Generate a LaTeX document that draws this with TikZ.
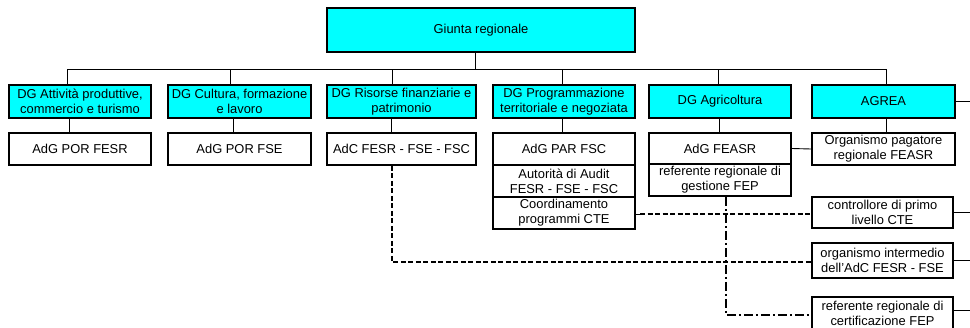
\documentclass[tikz,border=0pt]{standalone}
\usepackage{fontspec}
\setmainfont{Liberation Sans}
\usetikzlibrary{calc}
\definecolor{aqua}{RGB}{0,255,255}
\begin{document}
\begin{tikzpicture}[x=1pt,y=-1pt,
  box/.style={draw,line width=1.8pt,inner sep=0pt,align=center,font=\fontsize{12.9}{15}\selectfont},
  cy/.style={box,fill=aqua},
  wh/.style={box,fill=white},
  conn/.style={line width=0.9pt},
  dsh/.style={line width=1.5pt,dash pattern=on 5pt off 2.5pt},
  dshdot/.style={line width=1.2pt,dash pattern=on 9pt off 3pt on 2pt off 3pt}]
\useasboundingbox (0,0) rectangle (970,327);
\clip (0,0) rectangle (970,327);
\node[cy,minimum width=308pt,minimum height=44pt] (giunta) at (481,30) {Giunta regionale};
% row 1
\node[cy,minimum width=142pt,minimum height=33pt] (dg1) at (80,101.5) {DG Attività produttive,\\commercio e turismo};
\node[cy,minimum width=143pt,minimum height=33pt] (dg2) at (239.5,101.5) {DG Cultura, formazione\\e lavoro};
\node[cy,minimum width=149pt,minimum height=33pt] (dg3) at (401.5,101.5) {DG Risorse finanziarie e\\patrimonio};
\node[cy,minimum width=142pt,minimum height=33pt] (dg4) at (564,101.5) {DG Programmazione\\territoriale e negoziata};
\node[cy,minimum width=142pt,minimum height=33pt] (dg5) at (720,101.5) {DG Agricoltura};
\node[cy,minimum width=143pt,minimum height=33pt] (dg6) at (883.5,101.5) {AGREA};
% row 2
\node[wh,minimum width=142pt,minimum height=32pt] (adg1) at (80,149) {AdG POR FESR};
\node[wh,minimum width=143pt,minimum height=32pt] (adg2) at (239.5,149) {AdG POR FSE};
\node[wh,minimum width=149pt,minimum height=32pt] (adc) at (401.5,149) {AdC FESR - FSE - FSC};
\node[wh,minimum width=142pt,minimum height=32pt] (adgpar) at (564,149) {AdG PAR FSC};
\node[wh,minimum width=142pt,minimum height=32pt] (audit) at (564,181) {Autorità di Audit\\FESR - FSE - FSC};
\node[wh,minimum width=142pt,minimum height=32pt] (coord) at (564,213) {Coordinamento\\programmi CTE};
\node[wh,minimum width=142pt,minimum height=31pt] (adgfeasr) at (720,148.5) {AdG FEASR};
\node[wh,minimum width=142pt,minimum height=32pt] (refgest) at (720,180) {referente regionale di\\gestione FEP};
\node[wh,minimum width=143pt,minimum height=32pt] (orgpag) at (883.5,149) {Organismo pagatore\\regionale FEASR};
\node[wh,minimum width=141pt,minimum height=31pt] (contr) at (882.5,212.5) {controllore di primo\\livello CTE};
\node[wh,minimum width=141pt,minimum height=35pt] (orgint) at (882.5,260.5) {organismo intermedio\\dell'AdC FESR - FSE};
\node[wh,minimum width=141pt,minimum height=33pt] (refcert) at (882.5,313.5) {referente regionale di\\certificazione FEP};
% bus
\coordinate (bl) at (67,69);
\coordinate (br) at (886,69);
\coordinate (bc) at (475,69);
\coordinate (b2) at (230,69);
\coordinate (b3) at (392,69);
\coordinate (b4) at (562,69);
\coordinate (b5) at (718,69);
\draw[conn] (bc |- giunta.south) -- (bc);
\draw[conn] (bl) -- (br);
\draw[conn] (bl) -- (bl |- dg1.north);
\draw[conn] (b2) -- (b2 |- dg2.north);
\draw[conn] (b3) -- (b3 |- dg3.north);
\draw[conn] (b4) -- (b4 |- dg4.north);
\draw[conn] (b5) -- (b5 |- dg5.north);
\draw[conn] (br) -- (br |- dg6.north);
% drops row1 -> row2
\coordinate (d1) at (69,0);
\coordinate (d2) at (233,0);
\coordinate (d3) at (391,0);
\coordinate (d4) at (562,0);
\coordinate (d5) at (719,0);
\coordinate (d6) at (886,0);
\draw[conn] (d1 |- dg1.south) -- (d1 |- adg1.north);
\draw[conn] (d2 |- dg2.south) -- (d2 |- adg2.north);
\draw[conn] (d3 |- dg3.south) -- (d3 |- adc.north);
\draw[conn] (d4 |- dg4.south) -- (d4 |- adgpar.north);
\draw[conn] (d5 |- dg5.south) -- (d5 |- adgfeasr.north);
\draw[conn] (d6 |- dg6.south) -- (d6 |- orgpag.north);
\draw[conn] (adgfeasr.east) -- (orgpag.west);
% right edge exits
\coordinate (ex) at (970,0);
\coordinate (ex4) at (970,310);
\draw[conn] (dg6.east) -- (ex |- dg6.east);
\draw[conn] (contr.east) -- (ex |- contr.east);
\draw[conn] (orgint.east) -- (ex |- orgint.east);
\draw[conn] (refcert.east |- ex4) -- (ex4);
% dashed links
\coordinate (ad) at (392,262);
\draw[dsh] (ad |- adc.south) -- (ad) -- (orgint.west |- ad);
\coordinate (cj) at (640,214);
\draw[conn] (coord.east |- cj) -- (cj);
\draw[dsh] (cj) -- (contr.west |- cj);
\coordinate (rg) at (726,315);
\draw[dshdot] (rg |- refgest.south) -- (rg) -- (refcert.west |- rg);
\end{tikzpicture}
\end{document}
